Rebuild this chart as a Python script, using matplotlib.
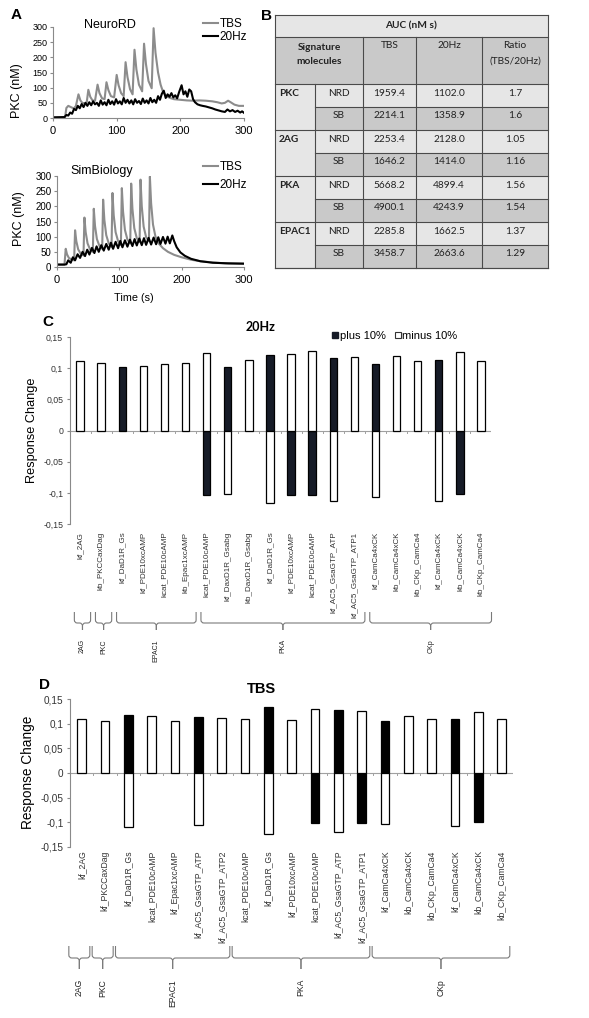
import matplotlib
matplotlib.use("Agg")
import matplotlib.pyplot as plt
from matplotlib.patches import Rectangle, PathPatch
from matplotlib.path import Path
from matplotlib.transforms import blended_transform_factory

W, H = 589, 1018
plt.rcParams.update({
    "font.family": ["Liberation Sans", "DejaVu Sans"],
    "axes.linewidth": 0.8,
})
TBL_FONT = ["Lato", "DejaVu Sans"]
AXC = "#8a8a8a"      # axis grey
TBS_C = "#8c8c8c"    # TBS trace grey

# ---------- panel A: PKC time courses (t [s], PKC [nM]) ----------
NRD_TBS = [(0, 2), (19, 3), (21, 33), (24, 40), (27, 37), (30, 34), (33, 32), (36, 40),
           (40, 78), (43, 58), (46, 50), (50, 48), (53, 52),
           (55.5, 93), (58.5, 70), (62, 58), (66, 57),
           (70, 110), (73, 82), (77, 65), (81, 62),
           (84, 118), (87, 92), (91, 72), (96, 68),
           (100, 142), (103, 108), (107, 82), (111, 72),
           (114, 184), (117, 135), (121, 95), (125, 78),
           (128, 225), (131, 160), (135, 110), (140, 88),
           (143, 245), (146, 178), (150, 122), (155, 98),
           (158, 296), (161, 215), (165, 150), (169, 110), (173, 85), (178, 72), (184, 66),
           (190, 62), (200, 60), (210, 58), (220, 57), (230, 58), (240, 57), (250, 55),
           (258, 52), (265, 48), (270, 50), (275, 57), (279, 52), (285, 44), (292, 40), (300, 40)]
NRD_20HZ = [(0, 2), (18, 3), (21, 10), (24, 8), (27, 18), (30, 14), (33, 30), (36, 26), (39, 40),
            (42, 32), (45, 46), (48, 36), (51, 50), (54, 40), (57, 52), (60, 42), (63, 55),
            (66, 45), (69, 50), (72, 40), (75, 58), (78, 44), (81, 52), (84, 42), (87, 60),
            (90, 46), (93, 55), (96, 44), (99, 62), (102, 48), (105, 55), (108, 45), (111, 66),
            (114, 50), (117, 60), (120, 48), (123, 58), (126, 45), (129, 62), (132, 50),
            (135, 56), (138, 46), (141, 64), (144, 50), (147, 58), (150, 48), (153, 66),
            (156, 52), (159, 60), (162, 50), (165, 72), (168, 60), (171, 80), (174, 90),
            (177, 66), (180, 78), (183, 70), (186, 82), (189, 68), (192, 75), (195, 65),
            (198, 85), (202, 108), (205, 78), (208, 88), (211, 70), (214, 94), (217, 88),
            (220, 62), (223, 52), (227, 45), (231, 42), (235, 40), (240, 38), (245, 35),
            (250, 32), (255, 28), (260, 25), (265, 22), (270, 20), (274, 28), (278, 22),
            (282, 26), (286, 20), (290, 24), (294, 18), (297, 22), (300, 17)]
SB_TBS = [(0, 8), (12, 8), (14, 60), (16, 42), (19, 30), (23, 25), (27.5, 22),
          (29, 121), (31, 85), (34, 58), (38, 44), (42.5, 38),
          (44, 163), (46, 115), (49, 78), (53, 58), (57.5, 50),
          (59, 192), (61, 135), (64, 92), (68, 70), (72.5, 60),
          (74, 222), (76, 155), (79, 105), (83, 78), (87.5, 66),
          (89, 244), (91, 170), (94, 115), (98, 85), (102.5, 72),
          (104, 260), (106, 182), (109, 122), (113, 90), (117.5, 78),
          (119, 275), (121, 192), (124, 128), (128, 95), (132.5, 82),
          (134, 288), (136, 200), (139, 133), (143, 98), (147.5, 86),
          (149, 298), (151, 210), (154, 140), (158, 100), (163, 78), (170, 62), (178, 50),
          (188, 40), (200, 32), (215, 24), (230, 19), (250, 15), (270, 12), (300, 11)]
SB_20HZ = [(0, 8), (12, 8), (15, 9), (18, 22), (22, 14), (25.5, 32), (29, 22), (33, 42),
           (37, 30), (41, 50), (45, 36), (48.5, 57), (52, 41), (56, 63), (60, 46), (63.5, 68),
           (67, 50), (71, 72), (75, 54), (79, 76), (83, 57), (86.5, 80), (90, 60), (94, 83),
           (98, 62), (101.5, 86), (105, 65), (109, 88), (113, 67), (117, 90), (121, 69),
           (124.5, 92), (128, 71), (132, 94), (136, 72), (139.5, 95), (143, 73), (147, 96),
           (151, 74), (155, 97), (159, 75), (162.5, 98), (166, 76), (170, 99), (174, 77),
           (177.5, 100), (181, 78), (185, 104), (188, 85), (192, 65), (198, 48), (205, 37),
           (215, 27), (230, 19), (250, 14), (275, 12), (300, 11)]

# ---------- panel B: AUC table ----------
TBL_MOLS = ["PKC", "2AG", "PKA", "EPAC1"]
TBL_MODELS = ["NRD", "SB"]
AUC_TBS = [1959.4, 2214.1, 2253.4, 1646.2, 5668.2, 4900.1, 2285.8, 3458.7]
AUC_20HZ = [1102.0, 1358.9, 2128.0, 1414.0, 4899.4, 4243.9, 1662.5, 2663.6]
AUC_RATIO = [1.7, 1.6, 1.05, 1.16, 1.56, 1.54, 1.37, 1.29]

# ---------- panels C/D: sensitivity ----------
C_LABELS = ["kf_2AG", "kb_PKCCaxDag", "kf_DaD1R_Gs", "kf_PDE10xcAMP", "kcat_PDE10cAMP",
            "kb_Epac1xcAMP", "kcat_PDE10cAMP", "kf_DaxD1R_Gsabg", "kb_DaxD1R_Gsabg",
            "kf_DaD1R_Gs", "kf_PDE10xcAMP", "kcat_PDE10cAMP", "kf_AC5_GsaGTP_ATP",
            "kf_AC5_GsaGTP_ATP1", "kf_CamCa4xCK", "kb_CamCa4xCK", "kb_CKp_CamCa4",
            "kf_CamCa4xCK", "kb_CamCa4xCK", "kb_CKp_CamCa4"]
C_PLUS = [0, 0, 0.1016, 0, 0, 0, -0.1038, 0.1016, 0, 0.1207, -0.1038, -0.1038, 0.1165,
          0, 0.107, 0, 0, 0.1128, -0.1016, 0]
C_MINUS = [0.1117, 0.108, 0, 0.1027, 0.107, 0.108, 0.1245, -0.1016, 0.113, -0.1167,
           0.1229, 0.128, -0.1134, 0.1186, -0.107, 0.1197, 0.1117, -0.1129, 0.126, 0.1117]
C_GROUPS = ["2AG", "PKC", "EPAC1", "PKA", "CKp"]
C_GROUP_SIZES = [1, 1, 4, 8, 6]

D_LABELS = ["kf_2AG", "kf_PKCCaxDag", "kf_DaD1R_Gs", "kcat_PDE10cAMP", "kf_Epac1xcAMP",
            "kf_AC5_GsaGTP_ATP", "kf_AC5_GsaGTP_ATP2", "kcat_PDE10cAMP", "kf_DaD1R_Gs",
            "kf_PDE10xcAMP", "kcat_PDE10cAMP", "kf_AC5_GsaGTP_ATP", "kf_AC5_GsaGTP_ATP1",
            "kf_CamCa4xCK", "kb_CamCa4xCK", "kb_CKp_CamCa4", "kf_CamCa4xCK", "kb_CamCa4xCK",
            "kb_CKp_CamCa4"]
D_PLUS = [0, 0, 0.1189, 0, 0, 0.1135, 0, 0, 0.1338, 0, -0.1027, 0.1284, -0.1014, 0.1061,
          0, 0, 0.1108, -0.1, 0]
D_MINUS = [0.1108, 0.1054, -0.1101, 0.1162, 0.1061, -0.1068, 0.1122, 0.1108, -0.1236,
           0.1088, 0.1304, -0.1196, 0.127, -0.1041, 0.1162, 0.1108, -0.1081, 0.1236, 0.1108]
D_GROUPS = ["2AG", "PKC", "EPAC1", "PKA", "CKp"]
D_GROUP_SIZES = [1, 1, 5, 6, 6]

Y_TICKS = [-0.15, -0.1, -0.05, 0, 0.05, 0.1, 0.15]
Y_TICKLABELS = ["-0,15", "-0,1", "-0,05", "0", "0,05", "0,1", "0,15"]


def rect(l, t, r, b):
    return [l / W, 1 - b / H, (r - l) / W, (b - t) / H]


def fy(y):
    return 1 - y / H


def style_axes(ax):
    for s in ("top", "right"):
        ax.spines[s].set_visible(False)
    for s in ("left", "bottom"):
        ax.spines[s].set_color(AXC)
    ax.tick_params(colors=AXC, labelcolor="black", length=2.5, width=0.8)


def time_panel(box, tbs, hz, title, title_xy, leg_top, leg_space, ytick_fs):
    ax = fig.add_axes(rect(*box))
    t, v = zip(*tbs)
    ax.plot(t, v, color=TBS_C, lw=1.5, label="TBS")
    t, v = zip(*hz)
    ax.plot(t, v, color="black", lw=1.5, label="20Hz")
    ax.set_xlim(0, 300)
    ax.set_ylim(0, 300)
    ax.set_xticks([0, 100, 200, 300])
    ax.set_yticks(range(0, 301, 50))
    style_axes(ax)
    ax.tick_params(axis="x", labelsize=8, pad=3)
    ax.tick_params(axis="y", labelsize=ytick_fs, pad=1.5)
    ax.text(title_xy[0] / W, fy(title_xy[1]), title, transform=fig.transFigure,
            ha="center", va="center", fontsize=9)
    ax.legend(loc="upper left", bbox_to_anchor=(203 / W, fy(leg_top)),
              bbox_transform=fig.transFigure, frameon=False, fontsize=8.5,
              handlelength=1.25, handletextpad=0.15, labelspacing=leg_space,
              borderpad=0, borderaxespad=0)
    return ax


def brace(ax, x0, x1, ytop, ymid, ytip, rx, color="#7a7a7a"):
    tr = blended_transform_factory(ax.transData, fig.transFigure)
    xm = (x0 + x1) / 2
    ry = 3
    codes = [Path.MOVETO, Path.LINETO, Path.CURVE3, Path.CURVE3, Path.LINETO,
             Path.CURVE3, Path.CURVE3, Path.LINETO]
    for xe, s in ((x0, 1), (x1, -1)):
        verts = [(xe, fy(ytop)), (xe, fy(ymid - ry)), (xe, fy(ymid)), (xe + s * rx, fy(ymid)),
                 (xm - s * rx, fy(ymid)), (xm, fy(ymid)), (xm, fy(ymid + ry)), (xm, fy(ytip))]
        ax.add_patch(PathPatch(Path(verts, codes), transform=tr, fill=False,
                               ec=color, lw=0.8, clip_on=False))


def sens_panel(box, labels, plus, minus, dark, groups, sizes, spec):
    ax = fig.add_axes(rect(*box))
    n = len(labels)
    bw = spec["bw"]
    xp = [i for i in range(n) if plus[i] != 0]
    xm = [i for i in range(n) if minus[i] != 0]
    ax.bar(xp, [plus[i] for i in xp], bw, color=dark, edgecolor="black", lw=0.9, zorder=3)
    ax.bar(xm, [minus[i] for i in xm], bw, color="white", edgecolor="black", lw=0.9, zorder=3)
    ax.set_xlim(-0.5, n - 0.5)
    ax.set_ylim(-0.15, 0.15)
    ax.axhline(0, color="#a0a0a0", lw=0.8, zorder=2)
    for i in range(n + 1):
        ax.plot([i - 0.5, i - 0.5], [0, -0.004], color="#a0a0a0", lw=0.7, zorder=2)
    for s in ("top", "right", "bottom"):
        ax.spines[s].set_visible(False)
    ax.spines["left"].set_color(AXC)
    ax.set_yticks(Y_TICKS)
    ax.set_yticklabels(Y_TICKLABELS)
    ax.tick_params(axis="y", colors=AXC, labelcolor="#333333", length=2.5, width=0.8,
                   labelsize=spec["yfs"], pad=2)
    ax.set_xticks(range(n))
    ax.set_xticklabels(labels, rotation=90, ha="center", va="top")
    ax.tick_params(axis="x", length=0, pad=spec["xpad"], labelsize=spec["xfs"],
                   labelcolor="#333333")
    # group braces
    start = 0
    tr = blended_transform_factory(ax.transData, fig.transFigure)
    for name, size in zip(groups, sizes):
        x0 = start + spec["b0"]
        x1 = start + size - 1 + spec["b1"]
        brace(ax, x0, x1, spec["btop"], spec["bmid"], spec["btip"], spec["rx"])
        ax.text((x0 + x1) / 2, fy(spec["glab"]), name, transform=tr, rotation=90,
                ha="center", va="top", fontsize=spec["gfs"], color="#222222")
        start += size
    return ax


fig = plt.figure(figsize=(W / 100, H / 100), dpi=100)

# ---- A ----
time_panel((53, 27, 244, 118), NRD_TBS, NRD_20HZ, "NeuroRD", (110, 25), 18, 0.1, 6.5)
time_panel((57, 176, 244, 267), SB_TBS, SB_20HZ, "SimBiology", (102, 171), 161, 0.55, 7)
fig.text(17 / W, fy(91), "PKC (nM)", rotation=90, ha="center", va="center", fontsize=9)
fig.text(19 / W, fy(219), "PKC (nM)", rotation=90, ha="center", va="center", fontsize=9)
fig.text(134 / W, fy(298), "Time (s)", ha="center", va="center", fontsize=7.8)
fig.text(16 / W, fy(15), "A", ha="center", va="center", fontsize=11, fontweight="bold")
fig.text(267 / W, fy(16), "B", ha="center", va="center", fontsize=11, fontweight="bold")

# ---- B: table ----
axB = fig.add_axes(rect(275, 15, 548, 268))
axB.set_xlim(275, 548)
axB.set_ylim(268, 15)
axB.axis("off")
LIGHT, DARK, LINE = "#e6e6e6", "#c9c9c9", "#4a4a4a"
cols = [275, 315, 363, 416, 482, 548]
r0, rh = 84, 23
axB.add_patch(Rectangle((275, 15), 273, 22, fc=LIGHT, ec="none"))
axB.add_patch(Rectangle((275, 37), 273, 47, fc=DARK, ec="none"))
axB.add_patch(Rectangle((275, r0), 40, 8 * rh, fc=LIGHT, ec="none"))
for k in range(8):
    axB.add_patch(Rectangle((315, r0 + k * rh), 233, rh, fc=LIGHT if k % 2 == 0 else DARK,
                            ec="none"))


def hline(y, x0=275, x1=548):
    axB.plot([x0, x1], [y, y], color=LINE, lw=0.8, clip_on=False)


def vline(x, y0, y1=268):
    axB.plot([x, x], [y0, y1], color=LINE, lw=0.8, clip_on=False)


for y in (15, 37, 84, 268):
    hline(y)
for g in range(4):
    hline(r0 + (2 * g + 2) * rh)
    hline(r0 + (2 * g + 1) * rh, 315)
vline(275, 15)
vline(548, 15)
vline(315, 84)
for x in cols[2:5]:
    vline(x, 37)

tkw = dict(ha="center", va="center", fontsize=7.3, color="#222222", family=TBL_FONT)
axB.text(411, 26, "AUC (nM s)", fontweight="bold", **tkw)
axB.text(319, 47, "Signature", fontweight="bold", **tkw)
axB.text(319, 62, "molecules", fontweight="bold", **tkw)
axB.text(389.5, 46, "TBS", **tkw)
axB.text(449, 46, "20Hz", **tkw)
axB.text(515, 46, "Ratio", **tkw)
axB.text(515, 61, "(TBS/20Hz)", **tkw)
for k in range(8):
    yc = r0 + k * rh + 9
    if k % 2 == 0:
        axB.text(279, yc, TBL_MOLS[k // 2], ha="left", va="center", fontsize=7.3,
                 fontweight="bold", color="#222222", family=TBL_FONT)
    axB.text(339, yc, TBL_MODELS[k % 2], **tkw)
    axB.text(389.5, yc, f"{AUC_TBS[k]:.1f}", **tkw)
    axB.text(449, yc, f"{AUC_20HZ[k]:.1f}", **tkw)
    axB.text(515, yc, f"{AUC_RATIO[k]:g}", **tkw)

# ---- C ----
c_spec = dict(bw=0.35, yfs=6.3, xfs=5.8, xpad=5.5, b0=-0.27, b1=0.5, btop=612, bmid=623,
              btip=630, rx=0.14, glab=639, gfs=5)
axC = sens_panel((69.5, 337, 491.5, 524), C_LABELS, C_PLUS, C_MINUS, "#161b27",
                 C_GROUPS, C_GROUP_SIZES, c_spec)
fig.text(261 / W, fy(327), "20Hz", ha="center", va="center", fontsize=9,
         fontweight="bold", family=TBL_FONT)
fig.text(48 / W, fy(322), "C", ha="center", va="center", fontsize=11, fontweight="bold")
fig.text(32 / W, fy(430), "Response Change", rotation=90, ha="center", va="center",
         fontsize=9.2)
handles = [Rectangle((0, 0), 1, 1, fc="#161b27", ec="#161b27"),
           Rectangle((0, 0), 1, 1, fc="white", ec="#333333", lw=0.8)]
axC.legend(handles, ["plus 10%", "minus 10%"], ncol=2, loc="center left",
           bbox_to_anchor=(332 / W, fy(336)), bbox_transform=fig.transFigure,
           frameon=False, fontsize=8, handlelength=0.55, handleheight=0.55,
           handletextpad=0.15, columnspacing=0.8, borderpad=0, borderaxespad=0)

# ---- D ----
d_spec = dict(bw=0.37, yfs=7.2, xfs=6.2, xpad=2.5, b0=-0.55, b1=0.35, btop=946, bmid=958,
              btip=969, rx=0.13, glab=979, gfs=6.2)
sens_panel((70, 699.3, 513.3, 846.7), D_LABELS, D_PLUS, D_MINUS, "black",
           D_GROUPS, D_GROUP_SIZES, d_spec)
fig.text(261 / W, fy(689), "TBS", ha="center", va="center", fontsize=10.5, fontweight="bold")
fig.text(44 / W, fy(685), "D", ha="center", va="center", fontsize=11, fontweight="bold")
fig.text(28 / W, fy(772), "Response Change", rotation=90, ha="center", va="center",
         fontsize=9.8)

fig.savefig("out.png", dpi=100)
